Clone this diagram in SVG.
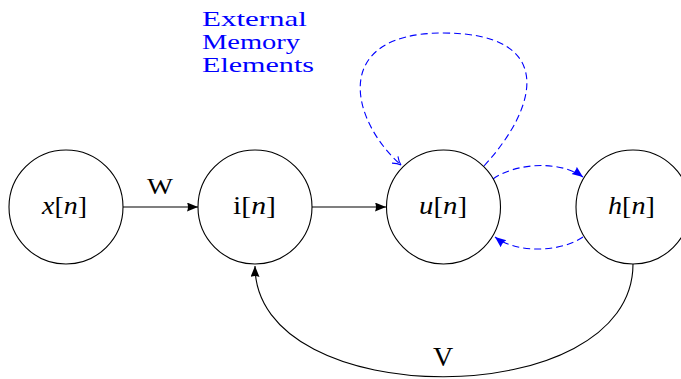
<svg xmlns="http://www.w3.org/2000/svg" width="681" height="379" viewBox="0 0 681 379">
<style>
.node{fill:#fff;stroke:#000;stroke-width:1.1}
.lbl{font-family:"Liberation Serif",serif;font-size:25px;fill:#000}
.it{font-style:italic}
.edge{fill:none;stroke:#000;stroke-width:1.1}
.dash{fill:none;stroke:#00f;stroke-width:1.1;stroke-dasharray:7 4}
.blue{font-family:"Liberation Serif",serif;font-size:22px;fill:#00f}
</style>
<defs>
<marker id="ah" markerUnits="userSpaceOnUse" markerWidth="13" markerHeight="10" refX="11" refY="4.5" orient="auto">
<path d="M0,0 L11,4.5 L0,9 Q2,4.5 0,0 Z" fill="#000"/>
</marker>
<marker id="ahb" markerUnits="userSpaceOnUse" markerWidth="13" markerHeight="10" refX="11" refY="4.5" orient="auto">
<path d="M0,0 L11,4.5 L0,9 Q2,4.5 0,0 Z" fill="#00f"/>
</marker>
<marker id="aho" markerUnits="userSpaceOnUse" markerWidth="12" markerHeight="12" refX="9" refY="5" orient="auto">
<path d="M1,0.5 Q5,4 9,5 Q5,6 1,9.5" fill="none" stroke="#00f" stroke-width="1.1"/>
</marker>
</defs>
<g id="connectors">
<line class="edge" x1="123" y1="207" x2="198" y2="207" marker-end="url(#ah)"/>
<text class="lbl" x="147" y="194" textLength="26" lengthAdjust="spacingAndGlyphs" style="font-size:23px">W</text>
<line class="edge" x1="312" y1="207" x2="386" y2="207" marker-end="url(#ah)"/>
<path class="edge" d="M633 264 C633 414, 255 414, 255 266" marker-end="url(#ah)"/>
<text class="lbl" x="443" y="366" text-anchor="middle" style="font-size:28px">V</text>
<path class="dash" d="M484 166 C540 105, 555 33, 443 33 C330 33, 350 120, 401 165" marker-end="url(#aho)"/>
<path class="dash" d="M493 179 C515 163, 560 160, 583 177" marker-end="url(#ahb)"/>
<path class="dash" d="M583 237 C560 253, 515 253, 495 237" marker-end="url(#ahb)"/>
</g>
<g id="memory-label">
<text class="blue" x="202" y="26" textLength="105" lengthAdjust="spacingAndGlyphs">External</text>
<text class="blue" x="202" y="49" textLength="98" lengthAdjust="spacingAndGlyphs">Memory</text>
<text class="blue" x="202" y="72" textLength="112" lengthAdjust="spacingAndGlyphs">Elements</text>
</g>
<g id="node-x">
<circle class="node" cx="66" cy="207" r="57"/>
<text class="lbl" x="42" y="214" textLength="45" lengthAdjust="spacingAndGlyphs"><tspan class="it">x</tspan>[<tspan class="it">n</tspan>]</text>
</g>
<g id="node-i">
<circle class="node" cx="255" cy="207" r="57"/>
<text class="lbl" x="233" y="214" textLength="43" lengthAdjust="spacingAndGlyphs">i[<tspan class="it">n</tspan>]</text>
</g>
<g id="node-u">
<circle class="node" cx="443.5" cy="207" r="57"/>
<text class="lbl" x="419" y="214" textLength="48" lengthAdjust="spacingAndGlyphs"><tspan class="it">u</tspan>[<tspan class="it">n</tspan>]</text>
</g>
<g id="node-h">
<circle class="node" cx="633" cy="207" r="57"/>
<text class="lbl" x="608" y="214" textLength="47" lengthAdjust="spacingAndGlyphs"><tspan class="it">h</tspan>[<tspan class="it">n</tspan>]</text>
</g>
</svg>
